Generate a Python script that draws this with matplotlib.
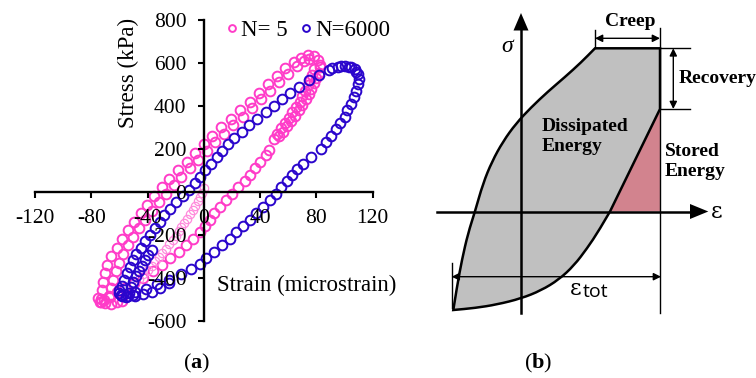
import matplotlib
matplotlib.use('Agg')
import matplotlib.pyplot as plt
from matplotlib.path import Path
from matplotlib.patches import PathPatch, Polygon

plt.rcParams['font.family'] = ['Liberation Serif', 'DejaVu Serif']
plt.rcParams['axes.unicode_minus'] = False
plt.rcParams['mathtext.fontset'] = 'custom'
plt.rcParams['mathtext.rm'] = 'Liberation Serif'
plt.rcParams['mathtext.bf'] = 'Liberation Serif:bold'

# ---------------- data (a) ----------------
x_ticks = [-120, -80, -40, 0, 40, 80, 120]
x_tick_labels = ['-120', '-80', '-40', '0', '40', '80', '120']
y_ticks = [-600, -400, -200, 0, 200, 400, 600, 800]
y_tick_labels = ['-600', '-400', '-200', '0', '200', '400', '600', '800']

# N = 5 : loading branch, outer row
n5_load_a_stress = [-500, -460, -420, -380, -340, -300, -260, -220, -180, -140, -100, -60, -20, 20, 60, 100,
                    140, 180, 220, 260, 300, 340, 380, 420, 460, 500, 540, 575, 605, 625, 635, 632, 615, 590]
n5_load_a_strain = [-73, -72.5, -71.5, -70, -68.5, -66, -62, -58, -54, -49.5, -45, -40.5, -35.5, -30, -24.5, -18.5,
                    -12, -6, 0, 6, 12.5, 19, 26, 32.5, 39, 45.5, 52, 58, 64, 69, 74, 78, 81, 82.5]
# N = 5 : loading branch, inner row
n5_load_b_stress = [-490, -450, -410, -370, -330, -290, -250, -210, -170, -130, -90, -50, -10, 30, 70, 110,
                    150, 190, 230, 270, 310, 350, 390, 430, 470, 510, 550, 585, 610, 620]
n5_load_b_strain = [-67, -66, -64.5, -62.5, -60.5, -57.5, -54, -50, -46, -41.5, -37, -32, -27, -21.5, -16, -10,
                    -4, 2, 8, 14.5, 21, 27.5, 34, 40.5, 47, 53.5, 60, 66, 71, 75]
# N = 5 : unloading, upper segment (two rows)
n5_unl_a_stress = [580, 555, 530, 505, 480, 455, 430, 405, 380, 355, 330, 305, 280, 258]
n5_unl_a_strain = [82.5, 81.5, 80, 78.5, 76.5, 74.5, 72.5, 70, 67.5, 65, 62, 59, 56.5, 53.5]
n5_unl_b_stress = [570, 545, 520, 495, 470, 445, 420, 395, 370, 345, 320, 295, 270, 245]
n5_unl_b_strain = [78, 77, 75.5, 74, 72, 70, 68, 65.5, 63, 60.5, 58, 55, 52, 50]
# N = 5 : unloading, lower segment
n5_unl_c_stress = [195, 170, 140, 110, 80, 50, 20, -10, -40, -70, -100, -130, -160, -190, -220, -250,
                   -280, -310, -340, -370, -400, -425, -448, -468, -488, -505, -515]
n5_unl_c_strain = [46.5, 44, 40, 36, 32.5, 29, 24.5, 20, 15.5, 11.5, 7.5, 4.5, 1, -3, -8, -12.5,
                   -18, -24, -30, -36, -43, -49.5, -56, -62, -67.5, -71, -74]
# N = 5 : bottom cluster
n5_bottom_stress = [-495, -512, -520, -521, -516, -508]
n5_bottom_strain = [-75, -73, -70, -66, -62, -58]
# N = 5 : first (light) trace
n5_first_stress = [15, -5, -25, -45, -65, -85, -105, -125, -145, -165, -185, -205, -225, -245, -265, -285,
                   -305, -325, -345, -365, -385, -405]
n5_first_strain = [0, -1, -2.5, -4, -6, -8, -10, -12, -14, -16, -18, -20, -22, -24.5, -27, -29.5,
                   -32, -34.5, -37, -40, -43, -46]

# N = 6000 : loading branch
n6k_load_stress = [-440, -410, -380, -350, -320, -290, -260, -230, -200, -170, -140, -110, -80, -50, -20, 10,
                   40, 70, 100, 130, 160, 190, 220, 250, 280, 310, 340, 370, 400, 430, 460, 490, 520, 545,
                   567, 582, 588, 583, 570, 550, 525]
n6k_load_strain = [-58, -56.8, -54.5, -52.8, -50.5, -48.2, -45, -42, -38.5, -35, -31.5, -28, -24, -19.5, -15, -10.5,
                   -6, -2.8, 1, 5, 9, 13, 17, 21.5, 27, 32, 38, 44, 50, 55.5, 61, 67.5, 75, 82,
                   89, 95, 100, 104.5, 107.5, 109.5, 110.3]
# N = 6000 : unloading, upper part
n6k_unl_a_stress = [500, 470, 440, 410, 380, 350, 320, 290, 260, 230, 200]
n6k_unl_a_strain = [109.5, 108, 106.5, 104.3, 102, 100, 97, 94, 90.5, 87, 83.5]
# N = 6000 : unloading, lower part
n6k_unl_b_stress = [160, 130, 105, 80, 50, 20, -10, -40, -70, -100, -130, -160, -190, -220, -250, -280,
                    -310, -335, -360, -385, -410, -432, -452, -468, -480, -487, -484, -472, -456]
n6k_unl_b_strain = [76, 70.5, 66.5, 63, 59, 55, 51, 47, 42, 37, 32.5, 28, 23, 18.5, 13, 7.5,
                    1.5, -3, -9, -16, -24.5, -33, -41, -49, -50, -54, -58.5, -60.5, -60.5]
# N = 6000 : extra rows in the lower-left corner and at the top
n6k_extra_stress = [-470, -445, -420, -395, -370, -345, -320, -295, -270,
                    -425, -448, -465, -477, -486, -490, -482,
                    575, 586, 580, 560]
n6k_extra_strain = [-53, -51.5, -50, -48, -46, -44, -42, -39.5, -37,
                    -25, -31, -37, -43, -49, -55, -59,
                    91, 97.5, 103, 108]

# ---------------- schematic geometry (b), in (strain, stress) sketch units ----------------
sch_left_curve = [(-67.7, -98.5), (-64, -75), (-59, -48), (-53, -22), (-46, 0), (-38, 28), (-29, 50),
                  (-18, 70), (-5, 88), (10, 104), (27, 120), (44, 134.5), (60, 149), (74, 163.2)]
sch_top_right = (139, 163.2)
sch_recovery_low = (139, 102.5)
sch_bottom_curve = [(89, 0), (78, -19), (66, -37), (53, -54), (38, -68), (20, -79), (0, -87),
                    (-24, -93), (-46, -96.5), (-67.7, -98.5)]
sch_stored = [(89, 0), (139, 102.5), (139, 0)]

PINK = '#FF3CC8'
LIGHT = '#FF8ADC'
BLUE = '#2A05CC'
GRAY = '#C0C0C0'
ROSE = '#D2838E'

W, H = 756, 378
fig = plt.figure(figsize=(W / 100, H / 100), dpi=100)


def fx(px):
    return px / W


def fy(py):
    return 1 - py / H


# ---------------- panel (b) ----------------
axs = fig.add_axes([0, 0, 1, 1])
axs.set_xlim(-521, W - 521)
axs.set_ylim(211.5 - H, 211.5)
axs.axis('off')
axs.set_zorder(0)


def smooth(pts, verts, codes, first):
    verts.append(pts[0])
    codes.append(Path.MOVETO if first else Path.LINETO)
    for i in range(1, len(pts) - 1):
        m = ((pts[i][0] + pts[i + 1][0]) / 2, (pts[i][1] + pts[i + 1][1]) / 2)
        verts.extend([pts[i], m])
        codes.extend([Path.CURVE3, Path.CURVE3])
    verts.append(pts[-1])
    codes.append(Path.LINETO)


verts, codes = [], []
smooth(sch_left_curve, verts, codes, True)
verts += [sch_top_right, sch_recovery_low]
codes += [Path.LINETO, Path.LINETO]
smooth(sch_bottom_curve, verts, codes, False)
verts.append(sch_left_curve[0])
codes.append(Path.CLOSEPOLY)

axs.add_patch(Polygon(sch_stored, closed=True, fc=ROSE, ec='none', zorder=1))
axs.add_patch(PathPatch(Path(verts, codes), fc=GRAY, ec='black', lw=1.8, zorder=2))

# axes of the sketch
axs.plot([0, 0], [-101.5, 182], color='black', lw=1.8, zorder=3)
axs.add_patch(Polygon([(-7.5, 181), (7.5, 181), (0, 198.5)], closed=True, fc='black', ec='none', zorder=3))
axs.plot([-84.3, 170], [0, 0], color='black', lw=1.8, zorder=3)
axs.add_patch(Polygon([(169, -7.5), (169, 7.5), (187.3, 0)], closed=True, fc='black', ec='none', zorder=3))

thin = dict(color='black', lw=1.0, zorder=3)
axs.plot([139, 139], [-101.5, 183.5], **thin)
axs.plot([74, 74], [163.2, 181.5], **thin)
axs.plot([139, 169], [163.2, 163.2], **thin)
axs.plot([139, 169], [102.5, 102.5], **thin)
axs.plot([-69.3, -69.3], [-51.5, -96.5], **thin)
arr = dict(arrowstyle='<|-|>', color='black', lw=1.0, mutation_scale=11, shrinkA=0, shrinkB=0)
axs.annotate('', xy=(74, 173.2), xytext=(139, 173.2), arrowprops=arr, zorder=3)
axs.annotate('', xy=(152.3, 163.2), xytext=(152.3, 102.5), arrowprops=arr, zorder=3)
axs.annotate('', xy=(-69.3, -65.2), xytext=(140, -65.2), arrowprops=arr, zorder=3)

axs.text(-14.3, 164.8, 'σ', fontsize=17, style='italic', ha='center', va='center')
axs.text(195.7, 0, 'ε', fontsize=16, ha='center', va='center', family=['DejaVu Serif'])
axs.text(49, -77.5, 'ε', fontsize=16, ha='left', va='center', family=['DejaVu Serif'])
axs.text(62, -80.5, 'tot', fontsize=14, ha='left', va='center', family=['Open Sans'])
bold = dict(fontsize=14, fontweight='bold')
axs.text(109, 189.8, 'Creep', ha='center', va='center', **bold)
axs.text(157.3, 133.2, 'Recovery', ha='left', va='center', **bold)
axs.text(20.7, 84.8, 'Dissipated', ha='left', va='center', **bold)
axs.text(20.7, 64.8, 'Energy', ha='left', va='center', **bold)
axs.text(144, 59.8, 'Stored', ha='left', va='center', **bold)
axs.text(144, 39.8, 'Energy', ha='left', va='center', **bold)

# ---------------- panel (a) ----------------
ax = fig.add_axes([fx(35), fy(320.5), fx(372.7) - fx(35), fy(20) - fy(320.5)])
ax.set_zorder(1)
ax.patch.set_alpha(0)

mk = dict(ls='none', marker='o', mfc='none', ms=7, mew=1.4, clip_on=False)
l5, = ax.plot(n5_load_a_strain + n5_load_b_strain + n5_unl_a_strain + n5_unl_b_strain + n5_unl_c_strain
              + n5_bottom_strain,
              n5_load_a_stress + n5_load_b_stress + n5_unl_a_stress + n5_unl_b_stress + n5_unl_c_stress
              + n5_bottom_stress, mec=PINK, label='N= 5', zorder=2, **mk)
ax.plot(n5_first_strain, n5_first_stress, ls='none', marker='o', mfc='none', ms=6, mew=0.9,
        mec=LIGHT, clip_on=False, zorder=2)
l6, = ax.plot(n6k_load_strain + n6k_unl_a_strain + n6k_unl_b_strain + n6k_extra_strain,
              n6k_load_stress + n6k_unl_a_stress + n6k_unl_b_stress + n6k_extra_stress,
              mec=BLUE, label='N=6000', zorder=2.1, **mk)

ax.set_xlim(-120, 120)
ax.set_ylim(-600, 800)
for s in ['top', 'right']:
    ax.spines[s].set_visible(False)
ax.spines['left'].set_position(('data', 0))
ax.spines['bottom'].set_position(('data', 0))
for s in ['left', 'bottom']:
    ax.spines[s].set_linewidth(1.7)
    ax.spines[s].set_zorder(3)
ax.set_xticks(x_ticks)
ax.set_xticklabels(x_tick_labels)
ax.set_yticks(y_ticks)
ax.set_yticklabels(y_tick_labels)
ax.tick_params(direction='out', length=4.5, width=1.5, pad=8, labelsize=15.5)
ax.set_axisbelow(False)
for t in ax.get_xticklabels() + ax.get_yticklabels():
    t.set_zorder(5)

ax.legend([l5, l6], ['N= 5', 'N=6000'], loc='upper left', bbox_to_anchor=(fx(227), fy(20)),
          bbox_transform=fig.transFigure, ncol=2, frameon=False, handlelength=0.45, handletextpad=0.15,
          columnspacing=0.6, borderpad=0, borderaxespad=0, fontsize=16.5, markerscale=0.7)

fig.text(fx(128), fy(73), 'Stress (kPa)', rotation=90, ha='center', va='center', fontsize=16.5)
fig.text(fx(307), fy(285), 'Strain (microstrain)', ha='center', va='center', fontsize=16.5)

fig.text(fx(197), fy(363), r'$\mathrm{(}\mathbf{a}\mathrm{)}$', ha='center', va='center', fontsize=16)
fig.text(fx(538), fy(363), r'$\mathrm{(}\mathbf{b}\mathrm{)}$', ha='center', va='center', fontsize=16)

fig.savefig('out.png', dpi=100)
